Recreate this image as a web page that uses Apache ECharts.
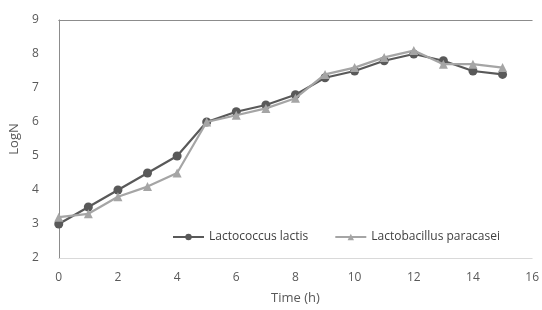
<!DOCTYPE html>
<html>
<head>
<meta charset="utf-8">
<script src="https://cdn.jsdelivr.net/npm/echarts@6/dist/echarts.min.js"></script>
<style>
html,body{margin:0;padding:0;background:#fff;}
#chart{width:542px;height:310px;}
</style>
</head>
<body>
<div id="chart"></div>
<script>
// time points (h)
var hours = [0,1,2,3,4,5,6,7,8,9,10,11,12,13,14,15];
var lactococcus = [3.0,3.5,4.0,4.5,5.0,6.0,6.3,6.5,6.8,7.3,7.5,7.8,8.0,7.8,7.5,7.4];
var lactobacillus = [3.2,3.3,3.8,4.1,4.5,6.0,6.2,6.4,6.7,7.4,7.6,7.9,8.1,7.7,7.7,7.6];
var seriesNames = ['Lactococcus lactis','Lactobacillus paracasei'];

function pairs(vals){
    return hours.map(function(h,i){ return [h, vals[i]]; });
}

var myChart = echarts.init(document.getElementById('chart'));
var font = '"Open Sans", sans-serif';
// top / right frame lines are darker than the axes
var frame = {
    show:true,axisLabel:{show:false},axisTick:{show:false},splitLine:{show:false},
    axisLine:{show:true,lineStyle:{color:'#8c8c8c'}}
};
var option = {
    animation:false,
    textStyle:{fontFamily:font},
    grid:{left:58,right:8,top:20,bottom:51},
    legend:{
        data:seriesNames,
        left:167,top:226,
        itemWidth:31,itemHeight:8,itemGap:26,
        textStyle:{color:'#404040',fontSize:12,fontFamily:font}
    },
    xAxis:[{
        type:'value',min:0,max:16,interval:2,
        name:'Time (h)',nameLocation:'middle',nameGap:34,
        nameTextStyle:{color:'#595959',fontSize:13,fontFamily:font},
        axisLine:{show:true,onZero:false,lineStyle:{color:'#d9d9d9'}},
        axisTick:{show:false},
        splitLine:{show:false},
        axisLabel:{color:'#595959',fontSize:12,margin:14,fontFamily:font}
    }, Object.assign({type:'value',min:0,max:16,position:'top'}, frame)],
    yAxis:[{
        type:'value',min:2,max:9,interval:1,
        name:'LogN',nameLocation:'middle',nameGap:36,
        nameTextStyle:{color:'#595959',fontSize:13,fontFamily:font},
        axisLine:{show:true,onZero:false,lineStyle:{color:'#d9d9d9'}},
        axisTick:{show:false},
        splitLine:{show:false},
        axisLabel:{color:'#595959',fontSize:12,margin:20,fontFamily:font}
    }, Object.assign({type:'value',min:2,max:9,position:'right'}, frame)],
    series:[
        {
            name:seriesNames[0],type:'line',data:pairs(lactococcus),
            symbol:'circle',symbolSize:9,
            lineStyle:{color:'#595959',width:2.2},
            itemStyle:{color:'#595959'},
            z:2
        },
        {
            name:seriesNames[1],type:'line',data:pairs(lactobacillus),
            symbol:'triangle',symbolSize:9,
            lineStyle:{color:'#a5a5a5',width:2.2},
            itemStyle:{color:'#a5a5a5'},
            z:3
        }
    ]
};
myChart.setOption(option);
</script>
</body>
</html>
